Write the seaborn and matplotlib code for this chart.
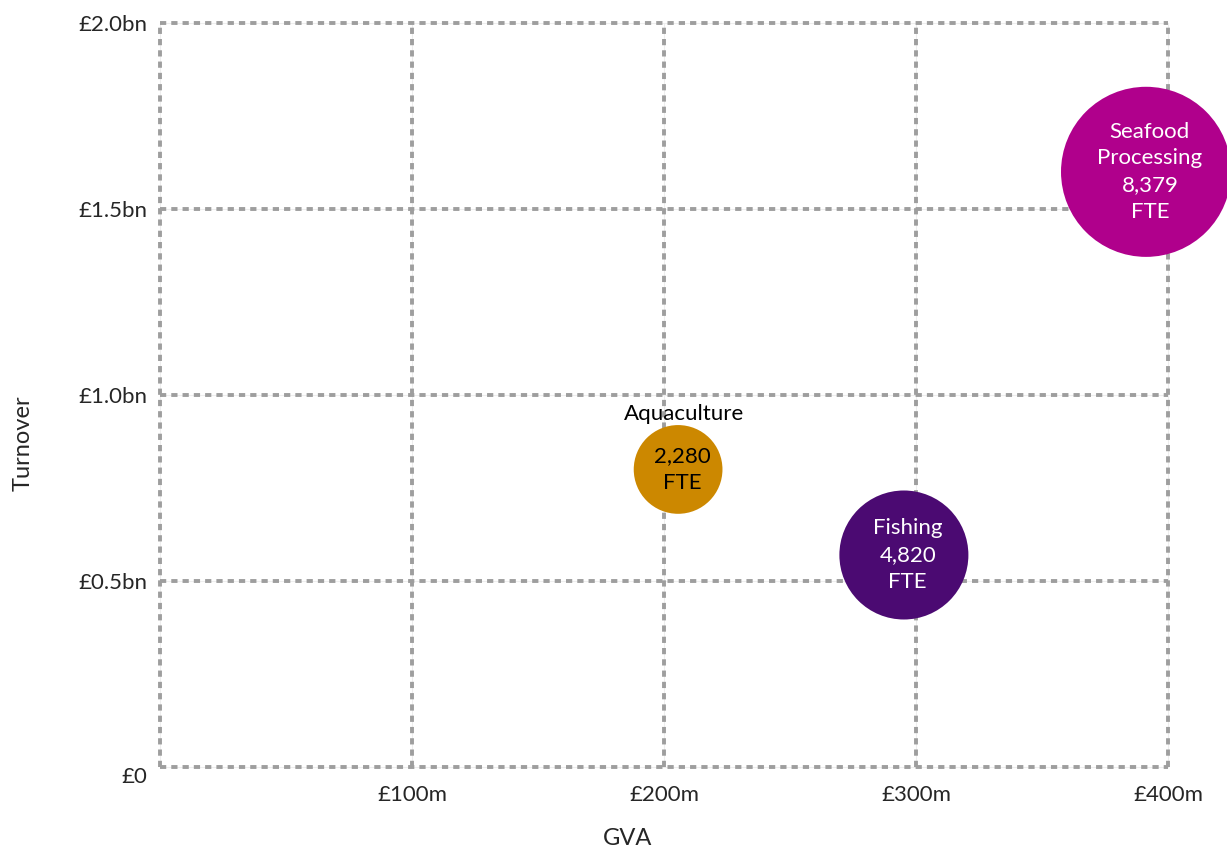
import matplotlib
matplotlib.use("Agg")
import matplotlib.pyplot as plt
import seaborn as sns
import pandas as pd

# ---- data ----
sectors = ["Aquaculture", "Fishing", "Seafood Processing"]
gva_m = [205.6, 295.2, 391.3]          # GVA, £m
turnover_bn = [0.80, 0.57, 1.60]       # Turnover, £bn
fte = [2280, 4820, 8379]
colors = ["#CC8800", "#4B0A72", "#B0008C"]
label_colors = ["black", "white", "white"]

x_ticks = [0, 100, 200, 300, 400]
x_tick_labels = ["", "£100m", "£200m", "£300m", "£400m"]
y_ticks = [0, 0.5, 1.0, 1.5, 2.0]
y_tick_labels = ["£0", "£0.5bn", "£1.0bn", "£1.5bn", "£2.0bn"]

df = pd.DataFrame({"sector": sectors, "gva": gva_m, "turnover": turnover_bn, "fte": fte})

sns.set_theme(style="white")
plt.rcParams["font.family"] = ["Lato", "DejaVu Sans"]

fig = plt.figure(figsize=(12.27, 8.5), dpi=100)
ax = fig.add_axes([0.1304, 0.0976, 0.8215, 0.8753])

# grid lines: faint solid under dashed
for xv in x_ticks:
    ax.axvline(xv, color="#eeeeee", lw=0.8, zorder=0, clip_on=False)
    ax.axvline(xv, color="#9e9e9e", lw=2.8, dashes=(1.6, 1.3), zorder=1, clip_on=False)
for yv in y_ticks:
    ax.axhline(yv, color="#eeeeee", lw=0.8, zorder=0, clip_on=False)
    ax.axhline(yv, color="#9e9e9e", lw=2.8, dashes=(1.6, 1.3), zorder=1, clip_on=False)

sns.scatterplot(data=df, x="gva", y="turnover", hue="sector", palette=colors,
                size="fte", sizes=(0, 15000), size_norm=(0, max(fte)),
                linewidth=0, alpha=1, legend=False, ax=ax, zorder=3, clip_on=False)
for coll in ax.collections:
    coll.set_clip_on(False)

# labels
for i, row in df.iterrows():
    if row["sector"] == "Aquaculture":
        ax.annotate(row["sector"], (row["gva"], row["turnover"]), xytext=(4, 40),
                    textcoords="offset points", ha="center", va="center",
                    fontsize=16, color="black", zorder=5)
        txt = f"{row['fte']:,}\nFTE"
    elif row["sector"] == "Seafood Processing":
        txt = f"Seafood\nProcessing\n{row['fte']:,}\nFTE"
    else:
        txt = f"{row['sector']}\n{row['fte']:,}\nFTE"
    ax.text(row["gva"] + 1.5, row["turnover"], txt, ha="center", va="center",
            fontsize=16, color=label_colors[i], linespacing=1.42, zorder=5)

ax.set_xlim(0, 400)
ax.set_ylim(0, 2.0)
ax.set_xticks(x_ticks)
ax.set_xticklabels(x_tick_labels, fontsize=16)
ax.set_yticks(y_ticks)
ax.set_yticklabels(y_tick_labels, fontsize=16)
ax.tick_params(axis="both", length=0)
ax.tick_params(axis="x", pad=13)
ax.tick_params(axis="y", pad=9)
ax.get_yticklabels()[0].set_va("top")

for s in ax.spines.values():
    s.set_visible(False)

ax.set_xlabel("GVA", fontsize=17)
ax.set_ylabel("Turnover", fontsize=17)
ax.xaxis.set_label_coords(0.464, -0.082)
ax.yaxis.set_label_coords(-0.125, 0.435)

fig.savefig("out.png", dpi=100)
